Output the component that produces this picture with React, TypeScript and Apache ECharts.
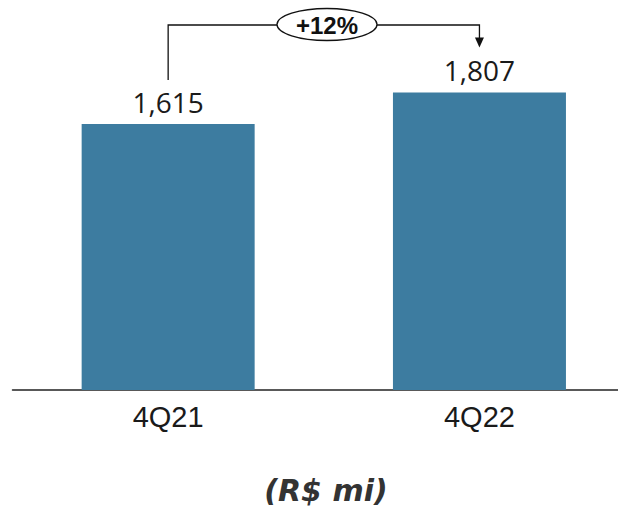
import React, { useEffect, useRef } from "react";
import * as echarts from "echarts";

const categories = ["4Q21", "4Q22"];
const values = [1615, 1807];
const growthLabel = "+12%";
const unitLabel = "(R$ mi)";

export default function App() {
  const ref = useRef<HTMLDivElement>(null);
  useEffect(() => {
    if (!ref.current) return;
    const chart = echarts.init(ref.current, undefined, { renderer: "svg" });
    chart.setOption({
      animation: false,
      backgroundColor: "#ffffff",
      grid: { left: 12.5, width: 622.6, top: 60.6, height: 329.4, outerBoundsMode: "none", containLabel: false },
      xAxis: {
        type: "category",
        data: categories,
        axisLine: { show: true, lineStyle: { color: "#222222", width: 1.5 } },
        axisTick: { show: false },
        axisLabel: {
          margin: 12,
          fontFamily: "Liberation Sans",
          fontSize: 29,
          color: "#1a1a1a",
        },
      },
      yAxis: {
        type: "value",
        min: 0,
        max: 2000,
        show: false,
        splitLine: { show: false },
      },
      series: [
        {
          type: "bar",
          data: values,
          barWidth: 173,
          itemStyle: { color: "#3d7ca0" },
          label: {
            show: true,
            position: "top",
            distance: 8,
            fontFamily: "Open Sans",
            fontSize: 28,
            color: "#1a1a1a",
            formatter: (p: any) => Number(p.value).toLocaleString("en-US"),
          },
        },
      ],
    });

    const p1 = chart.convertToPixel({ xAxisIndex: 0, yAxisIndex: 0 }, [0, values[0]]) as number[];
    const p2 = chart.convertToPixel({ xAxisIndex: 0, yAxisIndex: 0 }, [1, values[1]]) as number[];
    const topY = 25;
    const leftBottom = p1[1] - 44;
    const arrowTip = p2[1] - 45;
    const midX = 327;

    chart.setOption({
      graphic: [
        {
          type: "polyline",
          shape: { points: [[p1[0], leftBottom], [p1[0], topY], [p2[0], topY], [p2[0], arrowTip - 9]] },
          style: { stroke: "#111111", lineWidth: 1.3, fill: null },
          z: 10,
        },
        {
          type: "polygon",
          shape: { points: [[p2[0] - 4.5, arrowTip - 10], [p2[0] + 4.5, arrowTip - 10], [p2[0], arrowTip]] },
          style: { fill: "#111111" },
          z: 10,
        },
        {
          type: "ellipse",
          shape: { cx: midX, cy: 24.5, rx: 50, ry: 16 },
          style: { fill: "#ffffff", stroke: "#111111", lineWidth: 1.3 },
          z: 11,
        },
        {
          type: "text",
          x: midX,
          y: 25,
          style: {
            text: growthLabel,
            fontFamily: "Liberation Sans",
            fontWeight: "bold",
            fontSize: 24,
            fill: "#111111",
            align: "center",
            verticalAlign: "middle",
          },
          z: 12,
        },
        {
          type: "text",
          x: 326,
          y: 490,
          style: {
            text: unitLabel,
            fontFamily: "DejaVu Sans",
            fontWeight: "bold",
            fontStyle: "italic",
            fontSize: 30,
            fill: "#333333",
            align: "center",
            verticalAlign: "middle",
          },
          z: 12,
        },
      ],
    });

    return () => chart.dispose();
  }, []);
  return <div ref={ref} style={{ width: 618, height: 509, position: "absolute", left: 0, top: 0 }} />;
}
